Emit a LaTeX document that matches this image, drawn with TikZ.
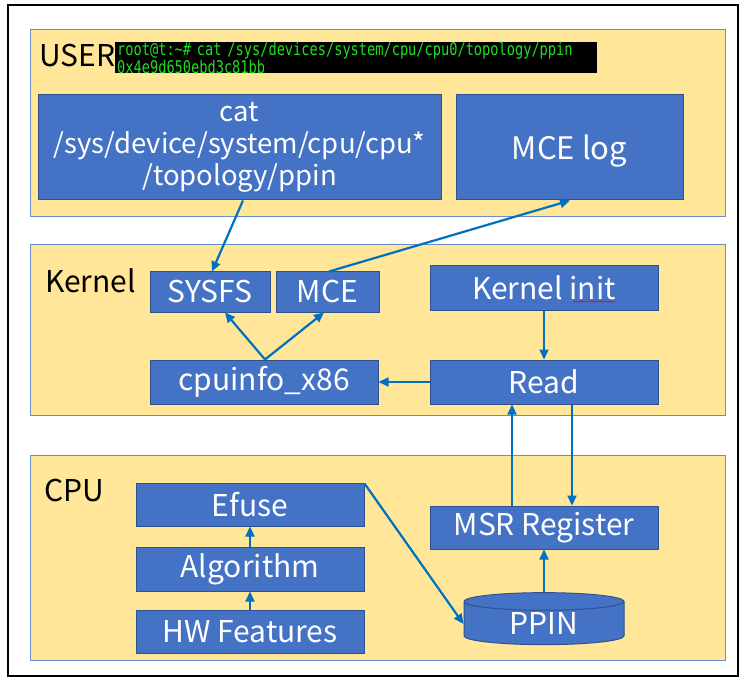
\documentclass[tikz,border=0pt]{standalone}
\usepackage{fontspec}
\setmainfont{Noto Sans CJK SC}
\newfontfamily\termfont{DejaVu Sans Mono}[FakeStretch=0.78]
\usetikzlibrary{arrows.meta,positioning,shapes.geometric,decorations.pathmorphing}
\definecolor{panelfill}{HTML}{FFE699}
\definecolor{paneldraw}{HTML}{6A8CC7}
\definecolor{boxfill}{HTML}{4472C4}
\definecolor{boxdraw}{HTML}{2F528F}
\definecolor{arrowblue}{HTML}{0070C0}
\definecolor{termgreen}{HTML}{22DD22}

\begin{document}
\begin{tikzpicture}[
  x=1pt, y=-1pt,
  font=\fontsize{30}{34}\selectfont,
  panel/.style={
    draw=paneldraw,
    fill=panelfill,
    line width=1pt
  },
  box/.style={
    draw=boxdraw,
    fill=boxfill,
    text=white,
    align=center,
    line width=1pt,
    minimum width=228pt,
    minimum height=44pt,
    inner sep=1pt
  },
  bigbox/.style={
    box,
    minimum height=105pt
  },
  label/.style={anchor=base west, inner sep=0pt, font=\fontsize{30}{32}\selectfont},
  arrow/.style={-{Triangle[length=10pt,width=9pt]}, line width=2.2pt, draw=arrowblue}
]
\useasboundingbox (0,0) rectangle (742,679);
\draw[line width=1.5pt] (8,5) rectangle (738,676);

% layers
\draw[panel] (30,30) rectangle (725,217);
\draw[panel] (30,245) rectangle (725,415);
\draw[panel] (30,455) rectangle (725,660);
\node[label] (userlbl) at (39,67) {USER};
\node[label] (kernellbl) at (45,293) {Kernel};
\node[label] (cpulbl) at (44,501) {CPU};

% user space
\node[fill=black, text=termgreen, anchor=north west, align=left,
  text width=478pt, text height=11.5pt, text depth=16pt,
  inner xsep=2pt, inner ysep=1.5pt,
  font=\termfont\fontsize{17.5}{14}\selectfont] (term) at (115,42)
{root@t:\textasciitilde\# cat /sys/devices/system/cpu/cpu0/topology/ppin\\
0x4e9d650ebd3c81bb};
\node[bigbox, minimum width=403pt, text height=84pt, text depth=7pt,
  font=\fontsize{27.5}{32}\selectfont] (cat) at (239.5,147.5)
{cat\\ /sys/device/system/cpu/cpu*\\ /topology/ppin};
\node[bigbox, minimum width=227pt, text depth=0pt,
  font=\fontsize{31}{36}\selectfont] (mcelog) at (569.5,147.5) {MCE log};

% kernel
\node[box, minimum width=120pt, minimum height=40pt] (sysfs) at (210,292) {SYSFS};
\node[box, minimum width=103pt, minimum height=40pt, right=5pt of sysfs] (mce) {MCE};
\node[box] (kinit) at (544,288) {Kernel init};
\node[box] (cpuinfo) at (264,382) {cpuinfo\_x86};
\node[box] (read) at (544,382) {Read};
\draw[red, line width=0.5pt, decorate,
  decoration={snake, amplitude=0.6pt, segment length=2.5pt}]
  ([xshift=29pt, yshift=-13.5pt]kinit.center) -- ([xshift=71pt, yshift=-13.5pt]kinit.center);

% cpu
\node[box, minimum height=43pt] (efuse) at (250,504.5) {Efuse};
\node[box, below=20pt of efuse] (algo) {Algorithm};
\node[box, minimum height=43pt, below=18pt of algo] (hwf) {HW Features};
\node[box, minimum height=43pt] (msr) at (544,527.5) {MSR Register};
\node[cylinder, shape border rotate=90, aspect=0.25, draw=boxdraw, fill=boxfill,
  text=white, line width=1pt, minimum width=160pt, minimum height=52pt,
  inner sep=1pt] (ppin) at (544,624) {\raisebox{-6pt}{PPIN}};

% connections
\draw[arrow] ([xshift=3.5pt]cat.south) -- ([xshift=2pt]sysfs.north);
\draw[arrow] ([xshift=1.5pt]mce.north) -- ([xshift=0.5pt]mcelog.south);
\draw[arrow] ([xshift=1pt]cpuinfo.north) -- ([xshift=15pt]sysfs.south);
\draw[arrow] ([xshift=1pt]cpuinfo.north) -- ([xshift=-3.5pt]mce.south);
\draw[arrow] (kinit) -- (read);
\draw[arrow] (read) -- (cpuinfo);
\draw[arrow] ([xshift=-32pt]msr.north) -- ([xshift=-32pt]read.south);
\draw[arrow] ([xshift=28pt]read.south) -- ([xshift=28pt]msr.north);
\draw[arrow] (algo) -- (efuse);
\draw[arrow] (hwf) -- (algo);
\draw[arrow] ([yshift=-1pt]efuse.north east) -- (ppin.west);
\draw[arrow] (ppin.north) -- (msr);
\end{tikzpicture}
\end{document}
